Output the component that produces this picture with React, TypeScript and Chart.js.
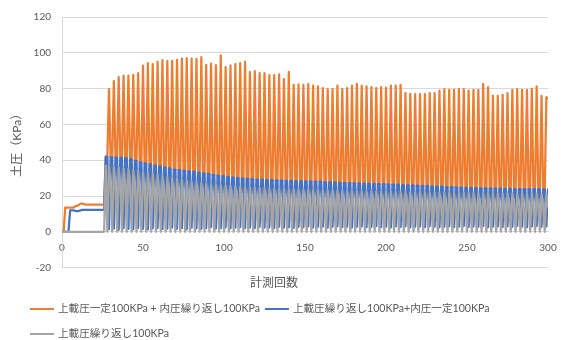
import React, { useEffect, useRef } from 'react';
import { Chart, registerables } from 'chart.js';

Chart.register(...registerables);

const FONT = 'Lato, "Noto Sans CJK JP", sans-serif';
const TEXT = '#595959';
const GRID = '#D9D9D9';

const seriesLabels = [
  '上載圧一定100KPa + 内圧繰り返し100KPa',
  '上載圧繰り返し100KPa+内圧一定100KPa',
  '上載圧繰り返し100KPa',
];
const seriesColors = ['#ED7D31', '#4472C4', '#A5A5A5'];
const xTitle = '計測回数';
const yTitle = '土圧（KPa）';
const xRange = [0, 300];
const xStep = 50;
const yRange = [-20, 120];
const yStep = 20;

// measurements 0..26 (before cyclic loading)
const orangeStart = [0, 0, 13.5, 13.5, 13.5, 13.5, 13.5, 13.5, 14.2, 14.5, 14.8, 15.5, 15.8, 15.6, 15.3, 15.2, 15.2, 15.2, 15.2, 15.2, 15.2, 15.2, 15.2, 15.2, 15.2, 15.2, 15.2];
const blueStart = [0, 0, 0, 0, 0, 12, 12, 12, 11.8, 11.6, 11.6, 11.8, 12.2, 12.3, 12.3, 12.3, 12.3, 12.3, 12.3, 12.3, 12.3, 12.3, 12.3, 12.3, 12.3, 12.3, 12.3];
const grayStart = [0, 0, 0, 0, 0, 0, 0, 0, 0, 0, 0, 0, 0, 0, 0, 0, 0, 0, 0, 0, 0, 0, 0, 0, 0, 0, 0];

// cyclic part: one value per cycle (3 measurements per cycle, from measurement 27)
const orangeTrough = [
  42, 41.5, 41.5, 41.5, 41, 40.5, 39.5, 38.5, 38, 37.5,
  37, 36.5, 36, 35, 34.5, 34.5, 34, 33.5, 33.5, 33,
  32.5, 32, 31.5, 31, 31, 30.5, 30, 30, 29.5, 29.5,
  29, 29, 29, 28.5, 28.5, 28.5, 28.5, 28.5, 28, 28,
  28, 28, 28, 28, 28, 27.5, 27.5, 27.5, 27, 27,
  27, 27, 27, 26.5, 26.5, 26.5, 26.5, 26.5, 26.5, 26,
  26, 26, 26, 25.5, 25.5, 25.5, 25.5, 25, 25, 25,
  25, 24.5, 24.5, 24.5, 24.5, 24, 24, 24, 24, 24,
  24, 24, 24, 24, 23.5, 23.5, 23.5, 23.5, 23.5, 23.5,
  23.5,
];
const orangePeak = [
  79.7, 84.2, 86.4, 87.2, 87.2, 87.7, 88.6, 92.9, 94.2, 93.7,
  95.0, 95.9, 95.3, 95.5, 96.1, 96.8, 97.0, 96.8, 96.5, 97.6,
  93.3, 93.9, 93.1, 98.5, 92.0, 93.0, 93.7, 94.2, 95.0, 89.2,
  89.8, 88.7, 88.7, 87.5, 87.5, 87.9, 85.3, 89.4, 82.1, 82.3,
  82.1, 82.5, 81.6, 81.2, 80.3, 79.5, 79.7, 81.6, 79.7, 80.3,
  81.6, 82.7, 81.6, 81.2, 80.8, 80.3, 80.8, 80.6, 81.6, 81.6,
  82.1, 77.5, 77.1, 76.9, 76.9, 76.9, 77.5, 77.5, 78.9, 79.7,
  79.3, 79.3, 79.7, 79.7, 78.9, 79.3, 79.3, 82.7, 80.8, 76.0,
  76.0, 76.5, 77.5, 79.3, 79.7, 79.3, 79.3, 79.9, 81.2, 76.0,
  75.2,
];
const blueHigh = [
  42.0, 41.6, 41.5, 41.5, 41.2, 40.6, 39.6, 38.8, 38.2, 37.6,
  37.0, 36.6, 36.0, 35.4, 34.8, 34.5, 34.1, 33.8, 33.6, 33.1,
  32.7, 32.3, 31.8, 31.4, 31.1, 30.7, 30.3, 30.1, 29.8, 29.6,
  29.4, 29.2, 29.1, 28.9, 28.8, 28.7, 28.6, 28.5, 28.4, 28.3,
  28.3, 28.2, 28.2, 28.1, 28.0, 27.8, 27.7, 27.6, 27.4, 27.3,
  27.2, 27.1, 27.0, 26.9, 26.9, 26.8, 26.7, 26.6, 26.5, 26.4,
  26.3, 26.1, 26.0, 25.9, 25.8, 25.7, 25.6, 25.4, 25.3, 25.2,
  25.0, 24.9, 24.8, 24.7, 24.5, 24.4, 24.4, 24.3, 24.3, 24.2,
  24.1, 24.1, 24.0, 24.0, 23.9, 23.9, 23.9, 23.8, 23.8, 23.8,
  23.7,
];
const blueLow = [
  1.5, 1.8, 1.2, 2.0, 1.6, 1.4, 2.2, 1.7, 1.3, 1.9,
  2.1, 1.5, 1.8, 2.4, 1.6, 2.0, 1.4, 2.3, 1.9, 1.7,
  2.2, 2.6, 1.8, 2.0, 2.5, 1.9, 2.3, 2.7, 2.1, 2.4,
  2.0, 2.8, 2.3, 2.5, 2.1, 2.9, 2.4, 2.6, 2.2, 2.8,
  2.5, 3.0, 2.4, 2.7, 2.9, 2.3, 2.8, 3.1, 2.6, 2.9,
  2.4, 2.8, 3.0, 2.5, 2.7, 3.2, 2.6, 2.9, 2.4, 3.0,
  2.7, 3.1, 2.5, 2.8, 3.0, 2.6, 3.2, 2.8, 2.5, 2.9,
  3.1, 2.6, 2.9, 3.3, 2.7, 3.0, 2.8, 3.2, 2.6, 2.9,
  3.0, 2.7, 3.1, 2.8, 3.3, 2.9, 2.6, 3.0, 3.2, 2.8,
  3.0,
];
const grayMid = [
  37.0, 27.5, 27.0, 26.2, 25.8, 25.0, 24.6, 24.0, 23.4, 23.0,
  22.5, 22.0, 21.6, 21.0, 20.7, 20.3, 20.0, 19.6, 19.4, 19.1,
  18.9, 18.7, 18.5, 18.3, 18.1, 17.9, 17.8, 17.6, 17.5, 17.4,
  17.3, 17.2, 17.1, 17.0, 16.9, 16.8, 16.8, 16.7, 16.6, 16.5,
  16.5, 16.4, 16.3, 16.3, 16.2, 16.1, 16.1, 16.0, 16.0, 15.9,
  15.9, 15.8, 15.8, 15.7, 15.7, 15.6, 15.6, 15.5, 15.5, 15.4,
  15.4, 15.4, 15.3, 15.3, 15.2, 15.2, 15.2, 15.1, 15.1, 15.0,
  15.0, 15.0, 14.9, 14.9, 14.9, 14.8, 14.8, 14.8, 14.7, 14.7,
  14.7, 14.6, 14.6, 14.6, 14.5, 14.5, 14.5, 14.4, 14.4, 14.4,
  14.3,
];
const grayPeak = [
  36.5, 36.0, 35.8, 35.4, 35.1, 34.5, 34.1, 33.4, 33.0, 32.4,
  31.8, 31.3, 30.6, 30.1, 29.5, 29.0, 28.6, 28.1, 27.8, 27.3,
  27.0, 26.7, 26.5, 26.2, 26.0, 25.7, 25.5, 25.3, 25.1, 24.9,
  24.8, 24.6, 24.5, 24.3, 24.2, 24.1, 24.0, 23.9, 23.8, 23.7,
  23.6, 23.5, 23.4, 23.3, 23.2, 23.1, 23.0, 23.0, 22.9, 22.8,
  22.8, 22.7, 22.7, 22.6, 22.6, 22.5, 22.5, 22.4, 22.4, 22.3,
  22.3, 22.2, 22.2, 22.1, 22.1, 22.0, 22.0, 22.0, 21.9, 21.9,
  21.9, 21.8, 21.8, 21.8, 21.7, 21.7, 21.7, 21.6, 21.6, 21.6,
  21.5, 21.5, 21.5, 21.4, 21.4, 21.4, 21.3, 21.3, 21.3, 21.2,
  21.2,
];
const grayTrough = 0;
// final measurement (300)
const orangeEnd = 74.5;
const blueEnd = 23.7;
const grayEnd = 14.2;

type Pt = { x: number; y: number };

function buildPoints(start: number[], a: number[], b: number[] | number, c: number[], end: number): Pt[] {
  const pts: Pt[] = start.map((y, i) => ({ x: i, y }));
  const base = start.length;
  a.forEach((v, k) => {
    const x = base + 3 * k;
    pts.push({ x, y: v });
    pts.push({ x: x + 1, y: Array.isArray(b) ? b[k] : b });
    pts.push({ x: x + 2, y: c[k] });
  });
  pts.push({ x: base + 3 * a.length, y: end });
  return pts;
}

const legendPlugin = {
  id: 'lineLegend',
  afterDraw(chart: any) {
    const ctx = chart.ctx as CanvasRenderingContext2D;
    const left = 30;
    let x = left;
    let y = 309;
    ctx.save();
    ctx.font = `10.6px ${FONT}`;
    ctx.textBaseline = 'middle';
    ctx.textAlign = 'left';
    chart.data.datasets.forEach((ds: any) => {
      const w = 28 + ctx.measureText(ds.label).width;
      if (x > left && x + w > chart.width - 15) {
        x = left;
        y += 25;
      }
      ctx.strokeStyle = ds.borderColor;
      ctx.lineWidth = 2;
      ctx.beginPath();
      ctx.moveTo(x, y);
      ctx.lineTo(x + 24, y);
      ctx.stroke();
      ctx.fillStyle = TEXT;
      ctx.fillText(ds.label, x + 28, y);
      x += w + 5;
    });
    ctx.restore();
  },
};

export default function App() {
  const ref = useRef<HTMLCanvasElement | null>(null);

  useEffect(() => {
    if (!ref.current) return;
    Chart.defaults.font.family = FONT;
    const series = [
      buildPoints(orangeStart, orangeTrough, orangeTrough, orangePeak, orangeEnd),
      buildPoints(blueStart, blueHigh, blueHigh, blueLow, blueEnd),
      buildPoints(grayStart, grayMid, grayTrough, grayPeak, grayEnd),
    ];
    const chart = new Chart(ref.current, {
      type: 'line',
      data: {
        datasets: series.map((data, i) => ({
          label: seriesLabels[i],
          data,
          borderColor: seriesColors[i],
          backgroundColor: seriesColors[i],
          borderWidth: 2.25,
          pointRadius: 0,
          tension: 0,
          fill: false,
          borderJoinStyle: 'round' as const,
          borderCapStyle: 'round' as const,
          order: 3 - i,
        })),
      },
      options: {
        animation: false,
        responsive: true,
        maintainAspectRatio: false,
        layout: { padding: { left: 0, right: 15, top: 17, bottom: 50 } },
        plugins: {
          legend: { display: false },
          tooltip: { enabled: false },
          title: {
            display: true,
            position: 'bottom',
            text: xTitle,
            color: TEXT,
            font: { family: FONT, size: 12, weight: 'normal' },
            padding: { top: 8, bottom: 0 },
          },
        },
        scales: {
          x: {
            type: 'linear',
            position: { y: 0 } as any,
            min: xRange[0],
            max: xRange[1],
            ticks: { stepSize: xStep, padding: 10, color: TEXT, font: { family: FONT, size: 10 }, maxRotation: 0 },
            grid: { display: false, drawTicks: false },
            border: { display: true, color: GRID, width: 1 },
            afterFit: (scale: any) => {
              scale.paddingLeft = 0;
              scale.paddingRight = 0;
            },
          },
          y: {
            type: 'linear',
            min: yRange[0],
            max: yRange[1],
            ticks: { stepSize: yStep, padding: 11, color: TEXT, font: { family: FONT, size: 10 } },
            grid: { color: GRID, drawTicks: false, lineWidth: 1 },
            border: { display: true, color: GRID, width: 1 },
            title: {
              display: true,
              text: yTitle,
              color: TEXT,
              font: { family: FONT, size: 12 },
              padding: { top: 10, bottom: 0 },
            },
            afterFit: (scale: any) => {
              scale.width = 62;
            },
          },
        },
      },
      plugins: [legendPlugin],
    });
    return () => chart.destroy();
  }, []);

  return (
    <div style={{ position: 'fixed', left: 0, top: 0, width: 563, height: 340, background: '#fff' }}>
      <canvas ref={ref} />
    </div>
  );
}
